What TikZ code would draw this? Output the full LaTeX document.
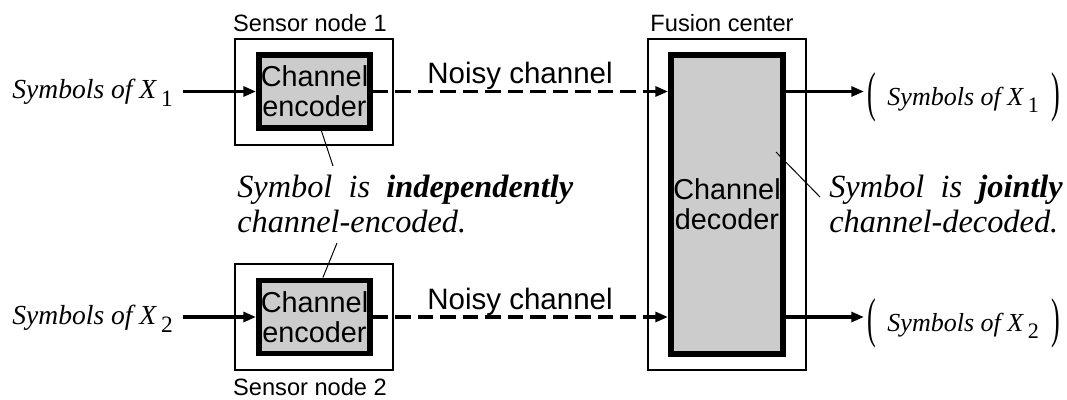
\documentclass[tikz,border=0pt]{standalone}
\usepackage{fontspec}
\setmainfont{Liberation Serif}
\setsansfont{Liberation Sans}
\usetikzlibrary{arrows.meta}

\newcommand{\symof}[1]{\textit{Symbols of X}\hspace{.14em}\raisebox{-.3em}{\scalebox{.85}{#1}}}
\newcommand{\tallpar}[1]{\raisebox{-3.8pt}{\scalebox{1}[2.1]{\upshape#1}}}

\tikzset{
	sensorbox/.style={draw, line width=0.8pt, minimum width=3.95cm, inner sep=0pt},
	codebox/.style={draw, fill=black!20, line width=4.2pt, inner sep=0pt, align=center,
		font=\sffamily\fontsize{20.5}{21.5}\selectfont},
	caption/.style={inner sep=0pt, font=\sffamily\fontsize{16.8}{18}\selectfont},
	chanlabel/.style={inner sep=0pt, font=\sffamily\fontsize{21}{22}\selectfont},
	inlabel/.style={inner ysep=0pt, inner xsep=0.25cm, font=\fontsize{19.6}{21}\selectfont},
	outlabel/.style={inner ysep=0pt, inner xsep=2pt, font=\fontsize{18.5}{20}\selectfont},
	remark/.style={inner sep=0pt, align=left, font=\itshape\fontsize{23}{25}\selectfont},
	sig/.style={line width=2.3pt, -{Triangle[length=9pt, width=7pt]}},
	noisy/.style={sig, dash pattern=on 11pt off 5pt},
	leader/.style={line width=0.7pt}
}

\begin{document}
\begin{tikzpicture}
	\useasboundingbox (0, 0) rectangle (26.675, 9.975);

	\node[sensorbox, minimum height=2.65cm] (sensA) at (7.85, 7.675) {};
	\node[sensorbox, minimum height=2.65cm] (sensB) at (7.85, 2.05) {};
	\node[sensorbox, minimum height=8.275cm] (fusion) at (18.175, 4.8625) {};

	\node[codebox, minimum width=2.775cm, minimum height=1.825cm] (encA) at (7.8625, 7.6875) {Channel\\encoder};
	\node[codebox, minimum width=2.775cm, minimum height=1.825cm] (encB) at (7.8625, 2.05) {Channel\\encoder};
	\node[codebox, minimum width=2.8cm, minimum height=7.475cm] (dec) at (18.175, 4.8625) {Channel\\decoder};

	\node[caption, anchor=base] (capA) at (7.75, 9.2) {Sensor node 1};
	\node[caption, anchor=base] (capB) at (7.75, 0.1) {Sensor node 2};
	\node[caption, anchor=base] (capF) at (18.05, 9.2) {Fusion center};

	\node[inlabel, anchor=base east] (inA) at (4.575, 7.525) {\symof{1}};
	\node[inlabel, anchor=base east] (inB) at (4.575, 1.875) {\symof{2}};
	\node[outlabel, anchor=base west] (outA) at (21.6, 7.35)
		{\tallpar{(}\hspace{.45em}\symof{1}\hspace{.5em}\tallpar{)}};
	\node[outlabel, anchor=base west] (outB) at (21.6, 1.7)
		{\tallpar{(}\hspace{.45em}\symof{2}\hspace{.5em}\tallpar{)}};

	\node[chanlabel, anchor=base] (noiseA) at (13.0, 7.9) {Noisy channel};
	\node[chanlabel, anchor=base] (noiseB) at (13.0, 2.25) {Noisy channel};

	\draw[sig] (inA.east |- encA.west) -- (encA.west);
	\draw[sig] (inB.east |- encB.west) -- (encB.west);
	\draw[noisy] (encA.east) -- (dec.west |- encA.east);
	\draw[noisy] (encB.east) -- (dec.west |- encB.east);
	\draw[sig] (dec.east |- encA.east) -- (outA.west |- encA.east);
	\draw[sig] (dec.east |- encB.east) -- (outB.west |- encB.east);

	\node[remark, anchor=north west] (indep) at (5.925, 5.6)
		{Symbol\enspace is\enspace \textbf{independently}\\channel-encoded.};
	\node[remark, anchor=north west] (joint) at (20.725, 5.6)
		{Symbol\enspace is\enspace \textbf{jointly}\\channel-decoded.};

	\coordinate (tagA) at (8.325, 5.825);
	\coordinate (tagB) at (8.425, 3.9);
	\coordinate (decPt) at (19.4, 6.175);
	\coordinate (tagF) at (20.5, 5.05);
	\draw[leader] (encA.-80) -- (tagA);
	\draw[leader] (tagB) -- (encB.78);
	\draw[leader] (decPt) -- (tagF);
\end{tikzpicture}
\end{document}
